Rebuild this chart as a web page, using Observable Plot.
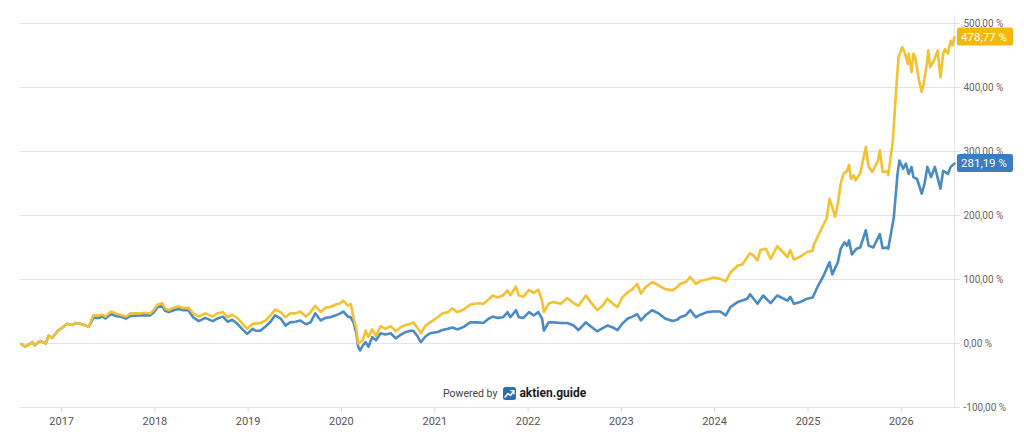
<!DOCTYPE html>
<html><head><meta charset="utf-8">
<script src="https://cdn.jsdelivr.net/npm/d3@7"></script>
<script src="https://cdn.jsdelivr.net/npm/@observablehq/plot@0.6"></script>
<style>
html,body{margin:0;padding:0;background:#fff;}
#wrap{position:relative;width:1024px;height:443px;font-family:Roboto,"Noto Sans",sans-serif;overflow:hidden;}
#credit{position:absolute;left:443px;top:384px;height:18px;display:flex;align-items:center;white-space:nowrap;}
#credit .p{font-size:10.5px;color:#444;margin-right:6px;}
#credit .b{font-size:12px;font-weight:700;color:#1c1c1c;margin-left:3px;}
</style></head><body>
<div id="wrap"><div id="chart"></div>
<div id="credit"><span class="p">Powered by</span><svg width="13" height="13" viewBox="0 0 13 13"><rect x="0" y="0" width="13" height="13" rx="2.5" fill="#2e6db4"/><polyline points="2,10 5,6.6 7.4,8.4 10.6,4.2" fill="none" stroke="#fff" stroke-width="1.6" stroke-linejoin="round" stroke-linecap="round"/><polyline points="7.8,3.6 10.9,3.6 10.9,6.7" fill="none" stroke="#fff" stroke-width="1.4" stroke-linejoin="round" stroke-linecap="round"/></svg><span class="b">aktien.guide</span></div>
</div>
<script>
// ---- data (decimal year, performance in %) ----
const yellow = [[2016.57,-1],[2016.61,-5],[2016.69,2],[2016.71,-3],[2016.77,4],[2016.83,0],[2016.86,12],[2016.90,9],[2016.96,20],[2017.01,25],[2017.06,31],[2017.12,29],[2017.15,32],[2017.20,31],[2017.26,28],[2017.29,26],[2017.34,44],[2017.39,44],[2017.44,45],[2017.47,42],[2017.53,50],[2017.58,47],[2017.63,45],[2017.69,42],[2017.74,47],[2017.83,47],[2017.90,48],[2017.95,47],[2017.99,53],[2018.03,61],[2018.08,63],[2018.11,55],[2018.15,52],[2018.20,56],[2018.25,58],[2018.31,55],[2018.36,56],[2018.41,47],[2018.47,42],[2018.54,47],[2018.62,42],[2018.67,47],[2018.73,49],[2018.78,41],[2018.83,45],[2018.89,39],[2018.94,31],[2018.99,23],[2019.05,31],
[2019.08,31],[2019.13,32],[2019.19,36],[2019.24,44],[2019.29,53],[2019.35,49],[2019.40,41],[2019.45,47],[2019.51,47],[2019.56,50],[2019.62,42],[2019.67,49],[2019.72,59],[2019.78,49],[2019.83,56],[2019.88,57],[2019.94,61],[2019.99,63],[2020.02,67],[2020.07,59],[2020.10,62],[2020.13,41],[2020.16,23],[2020.18,0],[2020.23,5],[2020.26,20],[2020.29,10],[2020.33,22],[2020.37,12],[2020.42,27],[2020.47,23],[2020.53,27],[2020.58,19],[2020.63,25],[2020.69,29],[2020.74,31],[2020.77,33],[2020.82,23],[2020.85,16],[2020.90,28],[2020.95,33],[2021.03,41],[2021.08,47],[2021.14,49],[2021.19,55],[2021.24,49],[2021.31,53],[2021.38,61],[2021.46,63],[2021.52,62],[2021.58,69],
[2021.62,75],[2021.67,72],[2021.73,75],[2021.78,83],[2021.81,75],[2021.87,89],[2021.90,75],[2021.95,73],[2022.01,84],[2022.06,79],[2022.11,84],[2022.15,67],[2022.17,49],[2022.22,62],[2022.27,65],[2022.35,62],[2022.42,71],[2022.49,63],[2022.54,59],[2022.62,75],[2022.67,65],[2022.74,52],[2022.80,59],[2022.85,70],[2022.91,62],[2022.96,57],[2023.01,72],[2023.07,80],[2023.12,85],[2023.17,93],[2023.21,78],[2023.26,88],[2023.33,96],[2023.40,91],[2023.47,85],[2023.55,83],[2023.60,88],[2023.63,93],[2023.69,96],[2023.74,104],[2023.80,93],[2023.85,98],[2023.92,100],[2023.99,103],[2024.06,101],[2024.12,97],
[2024.17,111],[2024.25,122],[2024.30,124],[2024.35,135],[2024.38,141],[2024.42,137],[2024.46,130],[2024.49,146],[2024.55,148],[2024.60,132],[2024.67,152],[2024.73,143],[2024.78,135],[2024.81,146],[2024.85,131],[2024.92,136],[2024.99,143],[2025.05,145],[2025.06,153],[2025.11,169],[2025.16,184],[2025.20,195],[2025.23,226],[2025.26,213],[2025.29,198],[2025.32,218],[2025.35,250],[2025.38,265],[2025.42,270],[2025.44,279],[2025.46,257],[2025.49,263],[2025.51,255],[2025.56,266],[2025.62,307],[2025.65,276],[2025.69,268],[2025.75,286],[2025.77,302],[2025.80,268],[2025.85,269],[2025.86,263],[2025.91,317],[2025.94,385],[2025.97,447],[2026.01,463],[2026.04,453],[2026.07,437],[2026.08,453],[2026.11,424],[2026.13,453],[2026.15,447],[2026.19,411],[2026.22,393],[2026.24,406],[2026.28,442],[2026.29,458],[2026.31,432],[2026.35,442],[2026.39,458],[2026.42,416],[2026.45,453],[2026.47,460],[2026.50,453],[2026.53,473],[2026.55,466],[2026.571,478.77]];

const blue = [[2016.57,-1],[2016.61,-5],[2016.69,2],[2016.71,-3],[2016.77,4],[2016.83,0],[2016.86,12],[2016.90,9],[2016.96,20],[2017.01,25],[2017.06,31],[2017.12,29],[2017.15,32],[2017.20,31],[2017.26,28],[2017.29,26],[2017.34,40],[2017.39,40],[2017.44,42],[2017.47,39],[2017.53,46],[2017.58,43],[2017.63,42],[2017.69,39],[2017.74,43],[2017.83,44],[2017.90,44],[2017.95,44],[2017.99,49],[2018.03,57],[2018.08,58],[2018.11,51],[2018.15,49],[2018.20,52],[2018.25,54],[2018.31,52],[2018.36,52],[2018.41,41],[2018.47,35],[2018.54,40],[2018.62,35],[2018.67,39],[2018.73,42],[2018.78,34],[2018.83,37],[2018.89,30],[2018.94,22],[2018.99,15],[2019.05,23],
[2019.08,20],[2019.13,20],[2019.19,27],[2019.24,34],[2019.29,44],[2019.35,39],[2019.40,28],[2019.45,33],[2019.51,34],[2019.56,36],[2019.62,30],[2019.67,33],[2019.72,47],[2019.78,36],[2019.83,40],[2019.88,41],[2019.94,44],[2019.99,47],[2020.02,50],[2020.07,42],[2020.10,41],[2020.13,33],[2020.16,16],[2020.18,-5],[2020.20,-11],[2020.23,-3],[2020.26,2],[2020.29,-5],[2020.33,10],[2020.37,5],[2020.42,16],[2020.47,14],[2020.53,16],[2020.58,8],[2020.63,13],[2020.69,18],[2020.74,20],[2020.77,20],[2020.82,10],[2020.85,2],[2020.90,11],[2020.95,16],[2021.03,18],[2021.08,21],[2021.14,23],[2021.19,25],[2021.24,22],[2021.31,26],[2021.38,33],[2021.46,33],[2021.52,32],[2021.58,39],
[2021.62,42],[2021.67,40],[2021.73,41],[2021.78,49],[2021.81,41],[2021.87,52],[2021.90,41],[2021.95,40],[2022.01,49],[2022.06,44],[2022.11,49],[2022.15,39],[2022.17,20],[2022.22,33],[2022.27,33],[2022.35,32],[2022.42,32],[2022.49,28],[2022.54,21],[2022.62,33],[2022.67,27],[2022.74,19],[2022.80,24],[2022.85,28],[2022.91,25],[2022.96,21],[2023.01,31],[2023.07,39],[2023.12,42],[2023.17,46],[2023.21,36],[2023.26,44],[2023.33,52],[2023.40,47],[2023.47,39],[2023.55,35],[2023.60,37],[2023.63,41],[2023.69,44],[2023.74,52],[2023.80,41],[2023.85,45],[2023.92,49],[2023.99,50],[2024.06,50],[2024.12,44],
[2024.17,57],[2024.25,65],[2024.35,70],[2024.38,77],[2024.46,62],[2024.52,75],[2024.60,63],[2024.67,75],[2024.78,67],[2024.81,73],[2024.85,62],[2024.92,65],[2024.99,70],[2025.05,72],[2025.10,88],[2025.16,104],[2025.20,117],[2025.23,127],[2025.26,108],[2025.32,127],[2025.35,148],[2025.39,158],[2025.42,153],[2025.44,161],[2025.47,139],[2025.52,148],[2025.56,150],[2025.62,177],[2025.65,153],[2025.70,150],[2025.77,171],[2025.80,149],[2025.85,150],[2025.86,148],[2025.92,197],[2025.96,265],[2025.98,286],[2026.02,273],[2026.05,281],[2026.08,265],[2026.11,276],[2026.13,260],[2026.17,257],[2026.22,234],[2026.25,250],[2026.28,276],[2026.32,260],[2026.36,276],[2026.42,242],[2026.45,270],[2026.50,265],[2026.53,276],[2026.571,281.19]];

const yTicks = [-100, 0, 100, 200, 300, 400, 500];
const xTickYears = [2017, 2018, 2019, 2020, 2021, 2022, 2023, 2024, 2025, 2026];
const startYear = 2016.56, endYear = 2026.571, gridEndYear = 2026.635;

const yellowColor = "#f2c232", blueColor = "#4a8bc4";
const yellowBox = "#f2b80c", blueBox = "#3a7dc0";

// decimal year -> Date (UTC)
function dy(t) {
  const y = Math.floor(t);
  const a = Date.UTC(y, 0, 1), b = Date.UTC(y + 1, 0, 1);
  return new Date(a + (t - y) * (b - a));
}
const fmt = v => v.toFixed(2).replace(".", ",") + " %";

const endLabels = [
  {t: yellow[yellow.length - 1][0], v: yellow[yellow.length - 1][1], fill: yellowBox},
  {t: blue[blue.length - 1][0], v: blue[blue.length - 1][1], fill: blueBox}
];

function endLabelMark(...args) {
  const scales = args.find(a => a && typeof a.x === "function" && typeof a.y === "function");
  const g = d3.create("svg:g");
  for (const L of endLabels) {
    const x = scales.x(dy(L.t)), y = scales.y(L.v);
    g.append("rect").attr("x", x + 3).attr("y", y - 9).attr("width", 56).attr("height", 18)
      .attr("rx", 2).attr("fill", L.fill);
    g.append("text").attr("x", x + 7).attr("y", y).attr("dy", "0.36em")
      .attr("text-anchor", "start")
      .attr("fill", "#fff").attr("font-size", 11.5).attr("font-family", "Roboto, sans-serif")
      .text(fmt(L.v));
  }
  return g.node();
}

const chart = Plot.plot({
  width: 1024,
  height: 443,
  marginLeft: 20,
  marginRight: 70,
  marginTop: 23,
  marginBottom: 36,
  style: {fontFamily: "Roboto, sans-serif", fontSize: "10px", background: "#fff"},
  x: {type: "utc", domain: [dy(startYear), dy(endYear)]},
  y: {domain: [-100, 500]},
  marks: [
    Plot.ruleY(yTicks, {y: d => d, x1: dy(startYear), x2: dy(gridEndYear), stroke: "#e4e4e4", strokeWidth: 1}),
    Plot.ruleX([dy(endYear)], {y1: -100, y2: 512, stroke: "#e4e4e4", strokeWidth: 1}),
    Plot.axisX({ticks: xTickYears.map(y => dy(y)), tickFormat: d3.utcFormat("%Y"), tickSize: 5, tickPadding: 5,
      stroke: "#d8d8d8", fill: "#555", fontSize: 11, label: null}),
    Plot.axisY({anchor: "right", ticks: yTicks, tickSize: 0, tickPadding: 9, tickFormat: fmt,
      fill: "#666", fontSize: 10, label: null}),
    Plot.lineY(blue, {x: d => dy(d[0]), y: d => d[1], stroke: blueColor, strokeWidth: 2.6, strokeLinejoin: "round"}),
    Plot.lineY(yellow, {x: d => dy(d[0]), y: d => d[1], stroke: yellowColor, strokeWidth: 2.6, strokeLinejoin: "round"}),
    endLabelMark
  ]
});
document.getElementById("chart").appendChild(chart);
</script>
</body></html>
